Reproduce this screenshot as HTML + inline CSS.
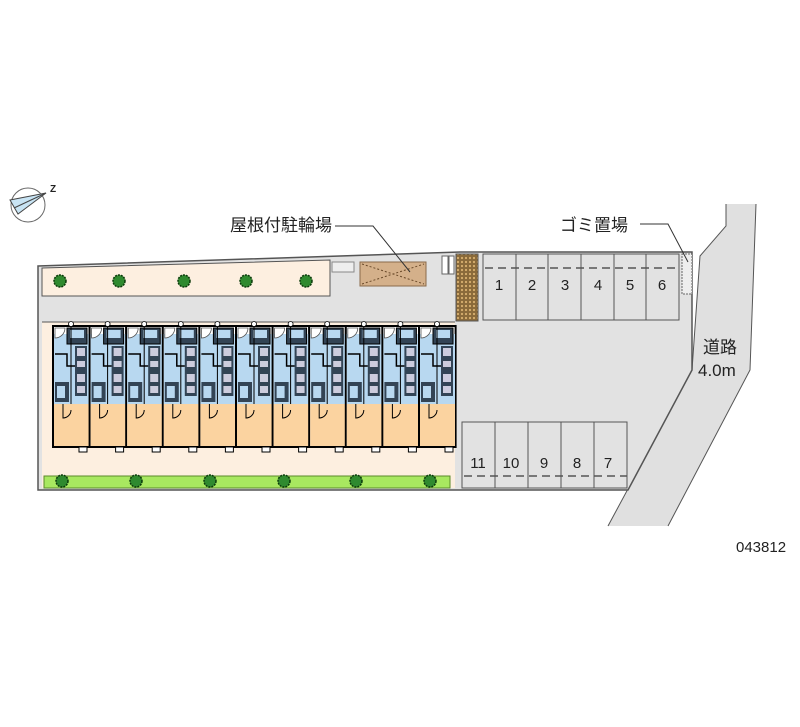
<!DOCTYPE html>
<html><head><meta charset="utf-8"><style>
html,body{margin:0;padding:0;background:#fff;}
svg{display:block;}
text{font-family:"Liberation Sans","Noto Sans CJK JP",sans-serif;}
</style></head><body>
<svg width="800" height="727" viewBox="0 0 800 727" xmlns="http://www.w3.org/2000/svg">
<defs>
<pattern id="dots" width="4" height="4" patternUnits="userSpaceOnUse">
<rect width="4" height="4" fill="#8a6a3a"/><circle cx="2" cy="2" r="1.1" fill="#d8b070"/></pattern>
<g id="unit">
<rect x="0" y="0" width="36.6" height="121" fill="#fff" stroke="#000" stroke-width="2"/>
<rect x="1" y="8" width="35" height="70" fill="#b8d8f0"/>
<rect x="1" y="78" width="35" height="42" fill="#fbd3a0"/>
<rect x="14" y="2" width="20" height="16" fill="#345" stroke="#000"/>
<rect x="17" y="4" width="14" height="8" fill="#b8d8f0"/>
<path d="M2 2 L12 2 A10 10 0 0 1 2 12 Z" fill="#fff" stroke="#555" stroke-width="0.8"/>
<rect x="22" y="20" width="12" height="50" fill="#345"/>
<rect x="24" y="22" width="8" height="8" fill="#ccd"/>
<rect x="24" y="35" width="8" height="6" fill="#ccd"/>
<rect x="24" y="48" width="8" height="8" fill="#ccd"/>
<rect x="24" y="60" width="8" height="7" fill="#ccd"/>
<path d="M2 28 L14 28 L14 40 L22 40" fill="none" stroke="#000" stroke-width="1.5"/>
<rect x="2" y="56" width="14" height="20" fill="#345"/>
<rect x="4" y="60" width="8" height="12" fill="#b8d8f0"/>
<path d="M10 78 L10 92 A8 8 0 0 0 18 84" fill="none" stroke="#000" stroke-width="1"/>
<line x1="18" y1="0" x2="18" y2="78" stroke="#000" stroke-width="1"/>
<rect x="26" y="121" width="8" height="5" fill="#fff" stroke="#000" stroke-width="1"/>
<circle cx="18" cy="-2" r="2.5" fill="#fff" stroke="#000" stroke-width="0.8"/>
</g>
<g id="tree"><circle r="6" fill="#2f8a2f" stroke="#0a3a0a" stroke-width="1.5" stroke-dasharray="2 1"/></g>
</defs>

<!-- road -->
<polygon points="726,204 756,204 750,370 668,526 608,526 692,370 700,256 726,226" fill="#e0e0e0"/>
<polyline points="726,204 726,226 700,256 692,370 608,526" fill="none" stroke="#555" stroke-width="1"/>
<polyline points="756,204 750,370 668,526" fill="none" stroke="#555" stroke-width="1"/>

<!-- site base -->
<polygon points="38,266 460,252 692,252 692,370 628,490 38,490" fill="#e2e2e2" stroke="#555" stroke-width="1.5"/>
<!-- beige top strip -->
<polygon points="42,268 330,260 330,296 42,296" fill="#fdefe0" stroke="#555" stroke-width="1"/>
<!-- beige lower -->
<rect x="42" y="322" width="413" height="166" fill="#fdefe0"/>
<line x1="42" y1="322" x2="455" y2="322" stroke="#555"/>
<!-- green strip -->
<rect x="44" y="476" width="406" height="12" fill="#a8e860" stroke="#5a8a2a" stroke-width="1"/>
<!-- bicycle shed -->
<rect x="360" y="262" width="66" height="24" fill="#d4b08a" stroke="#8a6a4a"/>
<path d="M362 284 L424 264 M362 264 L424 284" stroke="#6a4a2a" stroke-dasharray="2 2" fill="none"/>
<rect x="332" y="262" width="22" height="10" fill="#eee" stroke="#888"/>
<rect x="442" y="256" width="6" height="18" fill="#fff" stroke="#666"/>
<rect x="449" y="256" width="5" height="18" fill="#fff" stroke="#666"/>
<rect x="456" y="254" width="22" height="67" fill="url(#dots)" stroke="#555"/>

<!-- trees -->
<use href="#tree" x="60" y="281"/><use href="#tree" x="119" y="281"/><use href="#tree" x="184" y="281"/><use href="#tree" x="246" y="281"/><use href="#tree" x="306" y="281"/>
<use href="#tree" x="62" y="481"/><use href="#tree" x="136" y="481"/><use href="#tree" x="210" y="481"/><use href="#tree" x="284" y="481"/><use href="#tree" x="356" y="481"/><use href="#tree" x="430" y="481"/>

<!-- units -->
<g>
<use href="#unit" x="53" y="326"/><use href="#unit" x="89.6" y="326"/><use href="#unit" x="126.2" y="326"/><use href="#unit" x="162.8" y="326"/><use href="#unit" x="199.4" y="326"/><use href="#unit" x="236" y="326"/><use href="#unit" x="272.6" y="326"/><use href="#unit" x="309.2" y="326"/><use href="#unit" x="345.8" y="326"/><use href="#unit" x="382.4" y="326"/><use href="#unit" x="419" y="326"/>
</g>

<!-- parking 1-6 -->
<g fill="#e2e2e2" stroke="#555" stroke-width="1">
<rect x="483" y="254" width="33" height="66"/><rect x="516" y="254" width="32" height="66"/><rect x="548" y="254" width="33" height="66"/><rect x="581" y="254" width="33" height="66"/><rect x="614" y="254" width="32" height="66"/><rect x="646" y="254" width="33" height="66"/>
<rect x="462" y="422" width="33" height="66"/><rect x="495" y="422" width="33" height="66"/><rect x="528" y="422" width="33" height="66"/><rect x="561" y="422" width="33" height="66"/><rect x="594" y="422" width="33" height="66"/>
</g>
<line x1="485" y1="268" x2="679" y2="268" stroke="#555" stroke-width="1.5" stroke-dasharray="8 5"/>
<line x1="464" y1="476" x2="627" y2="476" stroke="#555" stroke-width="1.5" stroke-dasharray="8 5"/>
<g font-size="15" fill="#222" text-anchor="middle">
<text x="499" y="290">1</text><text x="532" y="290">2</text><text x="565" y="290">3</text><text x="598" y="290">4</text><text x="630" y="290">5</text><text x="662" y="290">6</text>
<text x="478" y="468">11</text><text x="511" y="468">10</text><text x="544" y="468">9</text><text x="577" y="468">8</text><text x="608" y="468">7</text>
</g>
<!-- garbage -->
<rect x="682" y="254" width="10" height="40" fill="#eee" stroke="#666" stroke-dasharray="2 1"/>

<!-- labels -->
<g font-size="17" fill="#222">
<text x="230" y="231">屋根付駐輪場</text>
<text x="560" y="231">ゴミ置場</text>
<text x="703" y="353">道路</text>
<text x="698" y="376">4.0m</text>
</g>
<polyline points="335,226 373,226 410,272" fill="none" stroke="#333"/>
<polyline points="640,224 668,224 688,262" fill="none" stroke="#333"/>
<text x="736" y="552" font-size="15" fill="#222">043812</text>

<!-- compass -->
<circle cx="28" cy="205" r="17" fill="none" stroke="#666"/>
<polygon points="46,193 10,200 18,214" fill="#c8e4f4" stroke="#444"/>
<line x1="46" y1="193" x2="14" y2="208" stroke="#444"/>
<text x="50" y="192" font-size="10" font-weight="bold" fill="#222">Z</text>
</svg>
</body></html>
